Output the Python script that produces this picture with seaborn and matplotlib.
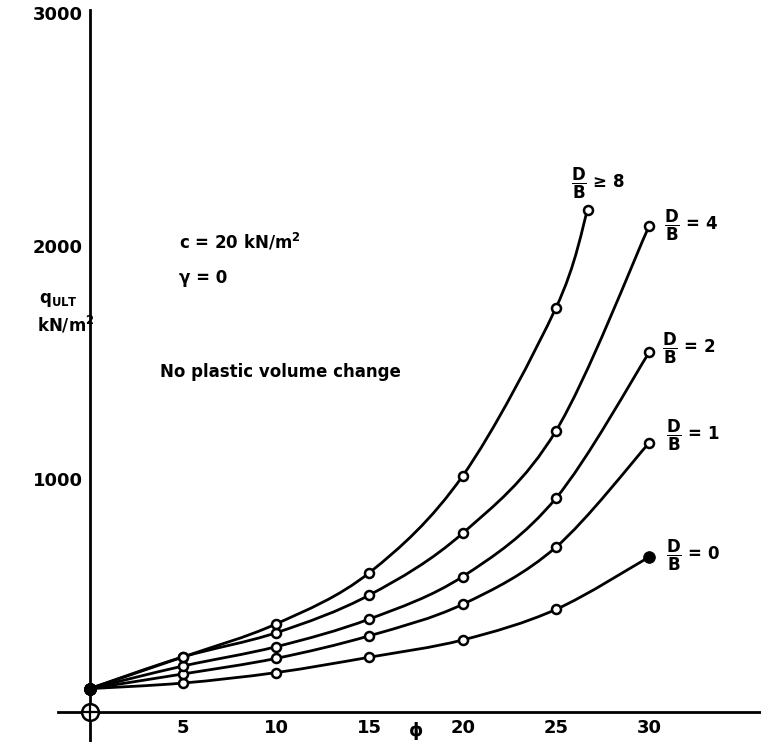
import numpy as np
import pandas as pd
import matplotlib
matplotlib.use("Agg")
import matplotlib.pyplot as plt
import seaborn as sns
from matplotlib.path import Path
from matplotlib.patches import PathPatch

# bearing capacity vs friction angle
phi = [0, 5, 10, 15, 20, 25, 30]
phi_db8 = [0, 5, 10, 15, 20, 25, 26.7]
q_db0 = [100, 124, 169, 235, 309, 440, 665]
q_db1 = [100, 163, 230, 327, 462, 707, 1155]
q_db2 = [100, 197, 280, 399, 581, 917, 1543]
q_db4 = [100, 236, 340, 502, 767, 1206, 2086]
q_db8 = [100, 236, 378, 598, 1013, 1734, 2155]

x_ticks = [5, 10, 15, 20, 25, 30]
y_ticks = [1000, 2000, 3000]

series = {"0": (phi, q_db0), "1": (phi, q_db1), "2": (phi, q_db2),
          "4": (phi, q_db4), "8": (phi_db8, q_db8)}

rows = []
for name, (xs, ys) in series.items():
    for xv, yv in zip(xs, ys):
        rows.append({"phi": xv, "q": yv, "DB": name})
df = pd.DataFrame(rows)

sns.set_style("white")
plt.rcParams["font.family"] = ["DejaVu Sans"]
plt.rcParams["mathtext.fontset"] = "dejavusans"

fig = plt.figure(figsize=(7.61, 7.42), dpi=100)
ax = fig.add_axes([0.0762, 0.0, 0.9238, 0.9865])


def smooth_path(x, y):
    # catmull-rom through the data points, as cubic bezier segments
    x = np.asarray(x, float)
    y = np.asarray(y, float)
    n = len(x)
    verts = [(x[0], y[0])]
    codes = [Path.MOVETO]
    for i in range(n - 1):
        xa, ya = (x[i - 1], y[i - 1]) if i > 0 else (x[i], y[i])
        xb, yb = (x[i + 2], y[i + 2]) if i + 2 < n else (x[i + 1], y[i + 1])
        c1 = (x[i] + (x[i + 1] - xa) / 6, y[i] + (y[i + 1] - ya) / 6)
        c2 = (x[i + 1] - (xb - x[i]) / 6, y[i + 1] - (yb - y[i]) / 6)
        verts += [c1, c2, (x[i + 1], y[i + 1])]
        codes += [Path.CURVE4] * 3
    return Path(verts, codes)


for name, (xs, ys) in series.items():
    ax.add_patch(PathPatch(smooth_path(xs, ys), fill=False, lw=2.0,
                           edgecolor="black", zorder=3, capstyle="round"))

# hollow points
hollow = df[(df["phi"] > 0) & ~((df["DB"] == "0") & (df["phi"] == 30))]
sns.scatterplot(data=hollow, x="phi", y="q", ax=ax, marker="o", s=42,
                facecolor="white", edgecolor="black", linewidth=1.8,
                zorder=4, legend=False)
# filled points
filled = df[(df["phi"] == 0) | ((df["DB"] == "0") & (df["phi"] == 30))]
sns.scatterplot(data=filled, x="phi", y="q", ax=ax, marker="o", s=70,
                color="black", edgecolor="black", zorder=5, legend=False)

# origin symbol
ax.plot([0], [0], marker="o", ms=12, mfc="white", mec="black", mew=1.8,
        clip_on=False, zorder=6)
ax.plot([0], [0], marker="+", ms=11, mec="black", mew=1.6,
        clip_on=False, zorder=7)

ax.set_xlim(-1.7, 36)
ax.set_ylim(-129, 3013)
for s in ["top", "right"]:
    ax.spines[s].set_visible(False)
for s in ["left", "bottom"]:
    ax.spines[s].set_position(("data", 0))
    ax.spines[s].set_linewidth(2.0)
    ax.spines[s].set_color("black")
ax.spines["left"].set_bounds(-129, 3013)

ax.set_xticks(x_ticks)
ax.set_yticks(y_ticks)
ax.set_xticklabels([str(t) for t in x_ticks], fontsize=13, fontweight="bold",
                   color="black")
ax.set_yticklabels([str(t) for t in y_ticks], fontsize=13, fontweight="bold",
                   color="black")
ax.tick_params(axis="both", direction="in", length=10, width=1.8,
               color="black", labelcolor="black", pad=5)
ax.set_xlabel("")
ax.set_ylabel("")
ax.grid(False)

bold = dict(fontweight="bold", color="black")
ax.text(17.5, -80, "ϕ", fontsize=13, ha="center", va="center", **bold)
ax.text(-2.7, 1768, r"$\mathbf{q_{ULT}}$", fontsize=12, ha="left", va="center", **bold)
ax.text(-2.8, 1661, r"kN/m$^\mathbf{2}$", fontsize=12, ha="left", va="center", **bold)
ax.text(4.8, 2017, r"c = 20 kN/m$^\mathbf{2}$", fontsize=12, ha="left", va="center", **bold)
ax.text(4.8, 1863, "γ = 0", fontsize=12, ha="left", va="center", **bold)
ax.text(3.75, 1459, "No plastic volume change", fontsize=12, ha="left", va="center", **bold)

frac = r"$\dfrac{\mathbf{D}}{\mathbf{B}}$"
ax.text(25.8, 2270, frac + " ≥ 8", fontsize=12, ha="left", va="center", **bold)
ax.text(30.8, 2090, frac + " = 4", fontsize=12, ha="left", va="center", **bold)
ax.text(30.7, 1562, frac + " = 2", fontsize=12, ha="left", va="center", **bold)
ax.text(30.9, 1189, frac + " = 1", fontsize=12, ha="left", va="center", **bold)
ax.text(30.9, 674, frac + " = 0", fontsize=12, ha="left", va="center", **bold)

fig.savefig("out.png", dpi=100)
